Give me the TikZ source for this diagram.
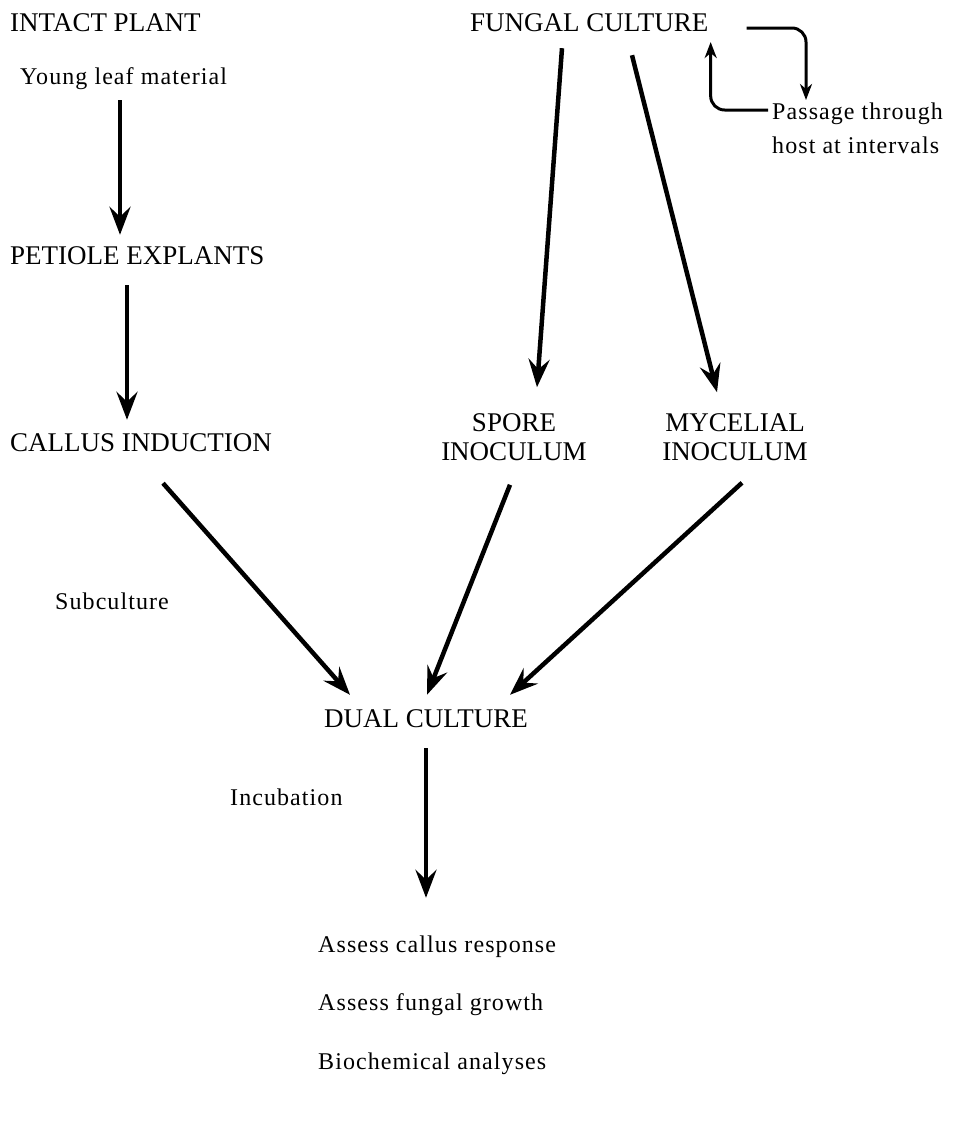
\documentclass[tikz,border=0pt]{standalone}
\usepackage{fontspec}
\setmainfont{Liberation Serif}
\newfontfamily\notefont[LetterSpace=4.5]{Liberation Serif}
\usetikzlibrary{positioning,arrows.meta}
\tikzset{
  node-caps/.style={inner sep=0pt,font=\fontsize{27}{29}\selectfont,
    text height=18pt,text depth=0pt},
  node-caps2/.style={inner sep=0pt,align=center,font=\fontsize{27}{29}\selectfont},
  node-note/.style={inner sep=0pt,font=\notefont\fontsize{24}{34}\selectfont,
    text height=17pt,text depth=5pt},
  node-block/.style={inner sep=0pt,align=left,font=\notefont\fontsize{24}{34}\selectfont},
  arrow/.style={-{Stealth[length=28pt,width=21pt,inset=10pt]},line width=4.5pt},
  arrow-loop/.style={-{Stealth[length=16pt,width=12pt,inset=5pt]},line width=3pt,
    rounded corners=14pt},
}
\begin{document}
\begin{tikzpicture}[x=1pt,y=-1pt]
  \useasboundingbox (0,0) rectangle (955,1133);
  % plant side
  \node[node-caps,anchor=west]  (intact)  at (10,22)  {INTACT PLANT};
  \node[node-note,anchor=west]  (leaf)    at (20,78)  {Young leaf material};
  \node[node-caps,anchor=west]  (petiole) at (10,255) {PETIOLE EXPLANTS};
  \node[node-caps,anchor=west]  (callus)  at (10,442) {CALLUS INDUCTION};
  % fungus side
  \node[node-caps,anchor=west]  (fungal)  at (470,22) {FUNGAL CULTURE};
  \node[node-block,anchor=north west] (passage) at (772,103) {Passage through\\host at intervals};
  \node[node-caps2]             (spore)   at (514,437) {SPORE\\INOCULUM};
  \node[node-caps2]             (mycel)   at (735,437) {MYCELIAL\\INOCULUM};
  % joint part
  \node[node-note,anchor=west]  (subcult) at (55,603)  {Subculture};
  \node[node-caps]              (dual)    at (426,718) {DUAL CULTURE};
  \node[node-note,anchor=west]  (incub)   at (230,799) {Incubation};
  \node[node-note,anchor=west]  (resp)    at (318,946) {Assess callus response};
  \node[node-note,anchor=west]  (growth)  at (318,1004) {Assess fungal growth};
  \node[node-note,anchor=west]  (bio)     at (318,1063) {Biochemical analyses};
  \draw[arrow] ([xshift=100pt,yshift=-11pt]leaf.south west) -- ([xshift=110pt,yshift=11pt]petiole.north west);
  \draw[arrow] ([xshift=117pt,yshift=-21pt]petiole.south west) -- ([xshift=117pt,yshift=13pt]callus.north west);
  \draw[arrow] ([xshift=92pt,yshift=-17pt]fungal.south west) -- ([xshift=23pt,yshift=26pt]spore.north);
  \draw[arrow] ([xshift=162pt,yshift=-24pt]fungal.south west) -- ([xshift=-18pt,yshift=21pt]mycel.north);
  \draw[arrow] ([xshift=153pt,yshift=-32pt]callus.south west) -- ([xshift=-76pt,yshift=14pt]dual.north);
  \draw[arrow] ([xshift=-4pt,yshift=-24pt]spore.south) -- ([xshift=1pt,yshift=14pt]dual.north);
  \draw[arrow] ([xshift=7pt,yshift=-22pt]mycel.south) -- ([xshift=84pt,yshift=14pt]dual.north);
  \draw[arrow] ([yshift=-21pt]dual.south) -- ([xshift=108pt,yshift=37pt]resp.north west);
  % passage loop
  \draw[arrow-loop] ([xshift=38pt,yshift=-6pt]fungal.east) -| ([xshift=34pt,yshift=3pt]passage.north west);
  \draw[arrow-loop] ([xshift=-4pt,yshift=-7pt]passage.north west) -| ([xshift=2pt,yshift=-20pt]fungal.east);
\end{tikzpicture}
\end{document}
